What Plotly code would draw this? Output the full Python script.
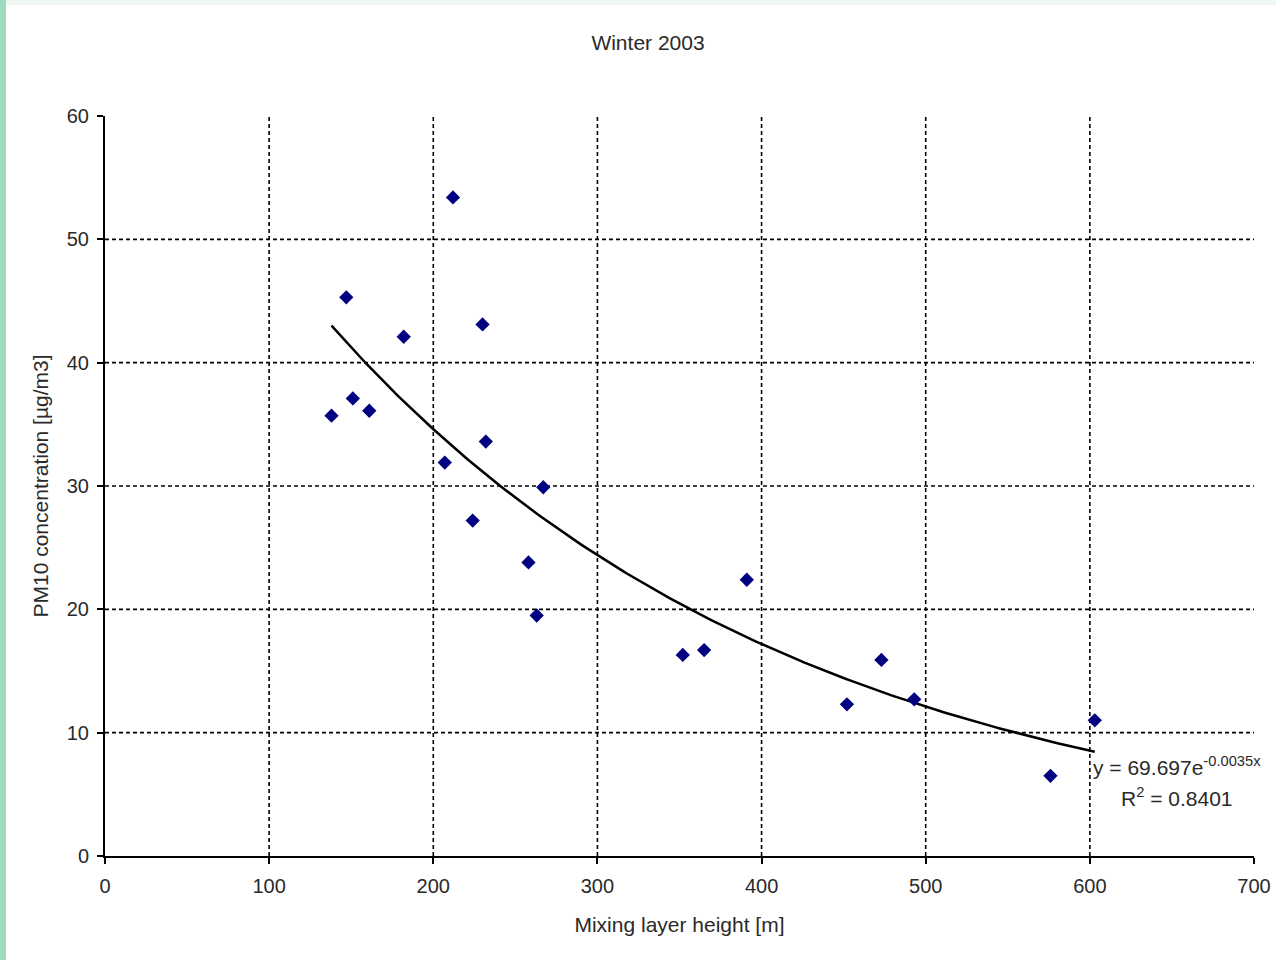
import numpy as np
import plotly.graph_objects as go

# Data
mixing_height = [138, 147, 151, 161, 182, 207, 212, 224, 230, 232, 258, 263, 267,
                 352, 365, 391, 452, 473, 493, 576, 603]
pm10 = [35.7, 45.3, 37.1, 36.1, 42.1, 31.9, 53.4, 27.2, 43.1, 33.6, 23.8, 19.5, 29.9,
        16.3, 16.7, 22.4, 12.3, 15.9, 12.7, 6.5, 11.0]

# Exponential trendline as printed on the chart
trend_a = 69.697
trend_b = -0.0035
trend_r2 = 0.8401

x_ticks = [0, 100, 200, 300, 400, 500, 600, 700]
y_ticks = [0, 10, 20, 30, 40, 50, 60]
x_grid = [100, 200, 300, 400, 500, 600]
y_grid = [10, 20, 30, 40, 50]

FONT = "Liberation Sans, Arial, sans-serif"
TXT = "#2a2a2a"
FS = 21

tx = np.linspace(min(mixing_height), max(mixing_height), 200)
ty = trend_a * np.exp(trend_b * tx)

fig = go.Figure()
fig.add_trace(go.Scatter(x=tx, y=ty, mode="lines",
                         line=dict(color="black", width=2.5), hoverinfo="skip"))
fig.add_trace(go.Scatter(x=mixing_height, y=pm10, mode="markers",
                         marker=dict(symbol="diamond", size=11, color="#000080",
                                     line=dict(width=0))))

shapes = []
for g in x_grid:
    shapes.append(dict(type="line", xref="x", yref="y", x0=g, x1=g, y0=0, y1=60,
                       line=dict(color="black", width=1.6, dash="4px,3px"), layer="below"))
for g in y_grid:
    shapes.append(dict(type="line", xref="x", yref="y", x0=0, x1=700, y0=g, y1=g,
                       line=dict(color="black", width=1.6, dash="4px,3px"), layer="below"))
# decorative border strips
shapes.append(dict(type="rect", xref="paper", yref="paper",
                   x0=-105/1149, x1=-99/1149, y0=-104/740, y1=(856)/740,
                   line=dict(width=0), fillcolor="#9ddcc0", layer="below"))
shapes.append(dict(type="rect", xref="paper", yref="paper",
                   x0=-105/1149, x1=(1276-105)/1149, y0=(856-5)/740, y1=856/740,
                   line=dict(width=0), fillcolor="#eef7f2", layer="below"))
shapes.append(dict(type="rect", xref="paper", yref="paper",
                   x0=-105/1149, x1=-99/1149, y0=(856-5)/740, y1=856/740,
                   line=dict(width=0), fillcolor="#9ddcc0", layer="below"))

fig.update_layout(
    width=1276, height=960,
    margin=dict(l=105, r=22, t=116, b=104),
    paper_bgcolor="white", plot_bgcolor="white",
    showlegend=False,
    font=dict(family=FONT, color=TXT, size=FS),
    title=dict(text="Winter 2003", x=648/1276, xanchor="center",
               y=1 - 43/960, yanchor="middle",
               font=dict(family=FONT, size=FS, color=TXT)),
    shapes=shapes,
    xaxis=dict(range=[0, 700], tickvals=x_ticks, ticktext=[str(v) for v in x_ticks],
               automargin=False,
               showgrid=False, zeroline=False, showline=True, linecolor="black",
               linewidth=2, ticks="outside", ticklen=6, tickwidth=2, tickcolor="black",
               ticklabelstandoff=5,
               tickfont=dict(family=FONT, size=20, color=TXT),
               title=dict(text="Mixing layer height [m]", standoff=21,
                          font=dict(family=FONT, size=FS, color=TXT))),
    yaxis=dict(range=[0, 60], tickvals=y_ticks, ticktext=[str(v) for v in y_ticks],
               automargin=False,
               showgrid=False, zeroline=False, showline=True, linecolor="black",
               linewidth=2, ticks="outside", ticklen=6, tickwidth=2, tickcolor="black",
               ticklabelstandoff=4,
               tickfont=dict(family=FONT, size=20, color=TXT),
               title=dict(text="PM10 concentration [µg/m3]", standoff=12,
                          font=dict(family=FONT, size=FS, color=TXT))),
    annotations=[
        dict(text="y = 69.697e<sup>-0.0035x</sup>", xref="paper", yref="paper",
             x=(1177-105)/1149, y=(856-766)/740, xanchor="center", yanchor="middle",
             showarrow=False, font=dict(family=FONT, size=FS, color=TXT)),
        dict(text="R<sup>2</sup> = 0.8401", xref="paper", yref="paper",
             x=(1177-105)/1149, y=(856-797)/740, xanchor="center", yanchor="middle",
             showarrow=False, font=dict(family=FONT, size=FS, color=TXT)),
    ],
)

fig.write_html("out.html", config={"displayModeBar": False},
               post_script="document.body.style.margin='0';")
